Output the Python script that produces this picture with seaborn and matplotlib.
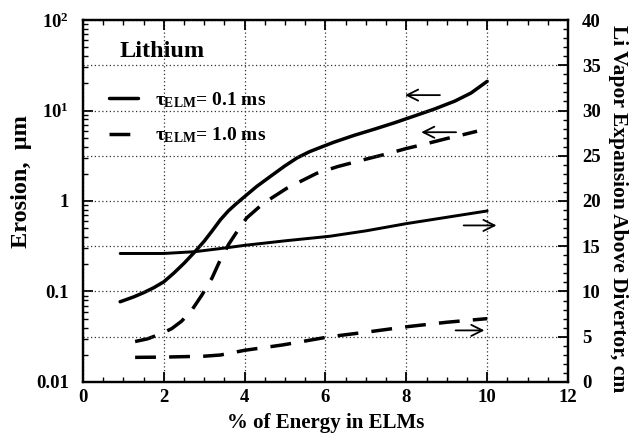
import numpy as np
import pandas as pd
import matplotlib
matplotlib.use("Agg")
import matplotlib.pyplot as plt
from matplotlib.ticker import FixedLocator, FixedFormatter, MultipleLocator, LogLocator, NullFormatter
import seaborn as sns

# ---- data ----
x_ero_fast = [0.92, 1.25, 1.5, 1.75, 2.0, 2.25, 2.5, 2.77, 3.0, 3.2, 3.4, 3.6, 3.8, 4.0, 4.3,
              4.63, 5.0, 5.3, 5.6, 5.9, 6.2, 6.7, 7.2, 7.7, 8.2, 8.7, 9.2, 9.6, 10.0]
ero_fast = [0.077, 0.087, 0.097, 0.11, 0.128, 0.16, 0.205, 0.275, 0.36, 0.47, 0.62, 0.78, 0.94,
            1.12, 1.45, 1.86, 2.45, 3.0, 3.5, 3.95, 4.45, 5.3, 6.2, 7.3, 8.7, 10.4, 12.7, 15.6, 21.0]

x_ero_slow = [1.29, 1.6, 1.99, 2.2, 2.44, 2.69, 2.94, 3.19, 3.39, 3.6, 3.84, 4.05, 4.46, 5.04,
              5.78, 6.3, 7.0, 7.5, 8.0, 8.5, 9.0, 9.4, 9.75]
ero_slow = [0.028, 0.030, 0.035, 0.039, 0.047, 0.062, 0.091, 0.14, 0.22, 0.33, 0.48, 0.65, 0.94,
            1.38, 2.02, 2.4, 2.9, 3.3, 3.8, 4.3, 4.9, 5.4, 5.9]

x_vap_fast = [0.92, 2.0, 2.77, 3.5, 4.0, 5.0, 6.1, 7.0, 8.0, 9.0, 10.0]
vap_fast = [14.2, 14.2, 14.4, 14.8, 15.1, 15.6, 16.1, 16.7, 17.5, 18.2, 18.9]

x_vap_slow = [1.29, 2.0, 3.0, 3.4, 4.0, 4.95, 6.1, 7.0, 8.0, 9.0, 10.0]
vap_slow = [2.72, 2.75, 2.85, 2.98, 3.5, 4.1, 5.0, 5.5, 6.1, 6.6, 7.0]

left_ticks = [0.01, 0.1, 1, 10, 100]
left_ticklabels = ["0.01", "0.1", "1", "$10^1$", "$10^2$"]
x_ticks = [0, 2, 4, 6, 8, 10, 12]
right_ticks = [0, 5, 10, 15, 20, 25, 30, 35, 40]

sns.set_style("ticks")
plt.rcParams["font.family"] = ["Liberation Serif", "DejaVu Serif"]
plt.rcParams["font.weight"] = "bold"
plt.rcParams["mathtext.fontset"] = "custom"
plt.rcParams["mathtext.rm"] = "Liberation Serif:bold"
plt.rcParams["mathtext.it"] = "Liberation Serif:bold"
plt.rcParams["mathtext.bf"] = "Liberation Serif:bold"
for k in ("text.color", "axes.labelcolor", "xtick.color", "ytick.color", "axes.edgecolor"):
    plt.rcParams[k] = "black"

fig = plt.figure(figsize=(6.3, 4.37), dpi=100)
ax = fig.add_axes([0.1317, 0.1259, 0.7699, 0.8283])
ax2 = ax.twinx()

LW = 2.5
DASH = (6.0, 3.8)

sns.lineplot(x=x_ero_fast, y=ero_fast, ax=ax, color="black", lw=LW,
             label=r"$\tau_{\mathrm{ELM}}$= 0.1 ms", estimator=None, sort=False)
sns.lineplot(x=x_ero_slow, y=ero_slow, ax=ax, color="black", lw=LW,
             label=r"$\tau_{\mathrm{ELM}}$= 1.0 ms", estimator=None, sort=False)
ax.lines[1].set_dashes(DASH)

sns.lineplot(x=x_vap_fast, y=vap_fast, ax=ax2, color="black", lw=LW * 0.85,
             estimator=None, sort=False, legend=False)
sns.lineplot(x=x_vap_slow, y=vap_slow, ax=ax2, color="black", lw=LW,
             estimator=None, sort=False, legend=False)
ax2.lines[1].set_dashes(DASH)

ax.set_yscale("log")
ax.set_xlim(0, 12)
ax.set_ylim(0.01, 100)
ax2.set_ylim(0, 40)

ax.yaxis.set_major_locator(FixedLocator(left_ticks))
ax.yaxis.set_major_formatter(FixedFormatter(left_ticklabels))
ax.yaxis.set_minor_locator(LogLocator(base=10, subs=np.arange(2, 10)))
ax.yaxis.set_minor_formatter(NullFormatter())
ax.xaxis.set_major_locator(FixedLocator(x_ticks))
ax.xaxis.set_minor_locator(MultipleLocator(0.5))
ax2.yaxis.set_major_locator(FixedLocator(right_ticks))
ax2.yaxis.set_minor_locator(MultipleLocator(1))

for a in (ax, ax2):
    a.tick_params(which="major", direction="in", length=7, width=1.3, labelsize=13.5, pad=5)
    a.tick_params(which="minor", direction="in", length=3.5, width=1.0)
    for s in a.spines.values():
        s.set_linewidth(1.6)
        s.set_color("black")
ax.tick_params(axis="x", which="both", top=True)
ax.tick_params(axis="y", which="major", pad=10)
ax2.tick_params(axis="y", which="major", pad=10)

# grid
ax.grid(axis="x", which="major", linestyle=(0, (1, 2)), color="#333333", lw=0.9)
ax2.grid(axis="y", which="major", linestyle=(0, (1, 2)), color="#333333", lw=0.9)
ax.set_axisbelow(True)

ax.set_xlabel("% of Energy in ELMs", fontsize=15, fontweight="bold", labelpad=5)
ax.set_ylabel("Erosion,  \u03bcm", fontsize=17.5, fontweight="bold")
ax.yaxis.set_label_coords(-0.105, 0.555)
ax2.set_ylabel("Li Vapor Expansion Above Divertor, cm", fontsize=15.5, fontweight="bold",
               rotation=-90)
ax2.yaxis.set_label_coords(1.124, 0.48)

ax.text(0.075, 0.913, "Lithium", transform=ax.transAxes, fontsize=17.5, fontweight="bold",
        ha="left", va="center")

leg = ax.legend(loc="upper left", bbox_to_anchor=(0.037, 0.828), frameon=False,
                fontsize=14, handlelength=1.52, handletextpad=0.85, labelspacing=0.8,
                borderaxespad=0)

# direction arrows
arrow_kw = dict(arrowstyle="->", color="black", lw=1.3, mutation_scale=20)
ax2.annotate("", xy=(7.9, 31.7), xytext=(8.9, 31.7), arrowprops=arrow_kw)
ax2.annotate("", xy=(8.3, 27.6), xytext=(9.3, 27.6), arrowprops=arrow_kw)
ax2.annotate("", xy=(10.3, 17.3), xytext=(9.35, 17.3), arrowprops=arrow_kw)
ax2.annotate("", xy=(10.0, 5.7), xytext=(9.15, 5.7), arrowprops=arrow_kw)

fig.savefig("out.png", dpi=100)
